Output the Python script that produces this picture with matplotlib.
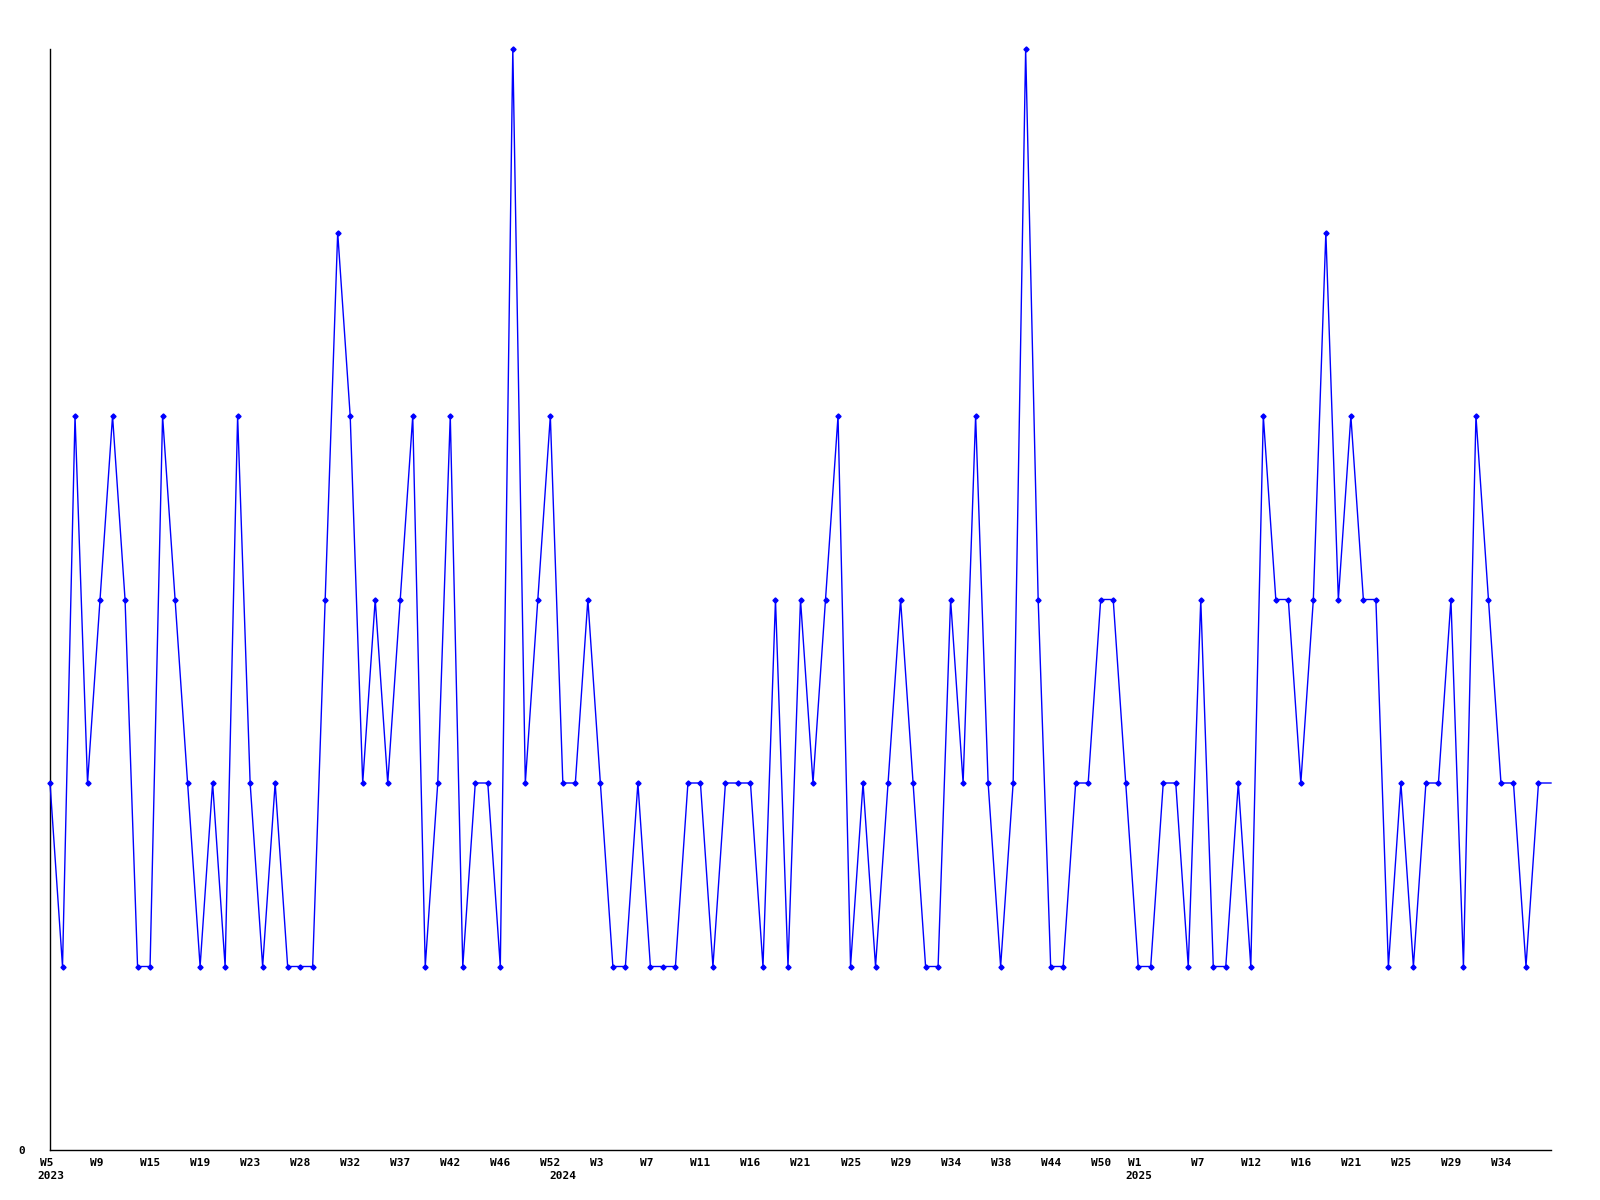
"""
Weekly count line chart (W5 2023 .. W34 2025), bitmap-style look.
"""

import matplotlib
matplotlib.use("Agg")
import matplotlib.pyplot as plt
import matplotlib.transforms as mtransforms

# ---------------------------------------------------------------------------
# Data
# ---------------------------------------------------------------------------

counts = [
    2, 1, 4, 2, 3, 4, 3, 1, 1, 4, 3, 2, 1, 2, 1, 4, 2, 1, 2, 1,
    1, 1, 3, 5, 4, 2, 3, 2, 3, 4, 1, 2, 4, 1, 2, 2, 1, 6, 2, 3,
    4, 2, 2, 3, 2, 1, 1, 2, 1, 1, 1, 2, 2, 1, 2, 2, 2, 1, 3, 1,
    3, 2, 3, 4, 1, 2, 1, 2, 3, 2, 1, 1, 3, 2, 4, 2, 1, 2, 6, 3,
    1, 1, 2, 2, 3, 3, 2, 1, 1, 2, 2, 1, 3, 1, 1, 2, 1, 4, 3, 3,
    2, 3, 5, 3, 4, 3, 3, 1, 2, 1, 2, 2, 3, 1, 4, 3, 2, 2, 1, 2,
    2,
]

week_index = [0, 4, 8, 12, 16, 20, 24, 28, 32, 36, 40, 44, 48, 52, 56,
              60, 64, 68, 72, 76, 80, 84, 87, 92, 96, 100, 104, 108, 112, 116]
week_labels = [
    "W5", "W9", "W15", "W19", "W23", "W28", "W32", "W37", "W42", "W46",
    "W52", "W3", "W7", "W11", "W16", "W21", "W25", "W29", "W34",
    "W38", "W44", "W50", "W1", "W7", "W12", "W16", "W21", "W25", "W29",
    "W34",
]

year_index = [0, 41, 87]
year_labels = ["2023", "2024", "2025"]

# ---------------------------------------------------------------------------
# Plot
# ---------------------------------------------------------------------------

FONT = {"family": "DejaVu Sans Mono", "weight": "bold", "size": 8}

fig = plt.figure(figsize=(16, 12), dpi=100)
ax = fig.add_axes([50 / 1600, 50 / 1200, 1501 / 1600, 1101 / 1200])

x = list(range(len(counts)))
ax.plot(x, counts, color="#0000FF", linewidth=1.0, marker="D",
        markersize=2.6, markevery=list(range(len(counts) - 1)),
        clip_on=False, zorder=3)

ax.set_xlim(0, len(counts) - 1)
ax.set_ylim(0, max(counts))

for side in ("top", "right"):
    ax.spines[side].set_visible(False)
for side in ("left", "bottom"):
    ax.spines[side].set_color("black")
    ax.spines[side].set_linewidth(1.0)

ax.set_yticks([0])
ax.set_yticklabels(["0"], fontdict=FONT)
ax.tick_params(axis="y", length=0, pad=18)

# week labels: left edge sits ~10 px before the tick
ax.set_xticks(week_index)
ax.set_xticklabels(week_labels, fontdict=FONT)
ax.tick_params(axis="x", length=0, pad=5.5)
shift = mtransforms.ScaledTranslation(-10 / 100, 0, fig.dpi_scale_trans)
for lbl in ax.get_xticklabels():
    lbl.set_horizontalalignment("left")
    lbl.set_transform(lbl.get_transform() + shift)

# year labels on a second row
year_tr = (ax.get_xaxis_transform()
           + mtransforms.ScaledTranslation(-13 / 100, -26 / 100, fig.dpi_scale_trans))
for xi, yl in zip(year_index, year_labels):
    ax.text(xi, 0, yl, transform=year_tr, ha="left", va="center",
            fontdict=FONT, clip_on=False)

fig.savefig("out.png", dpi=100)
